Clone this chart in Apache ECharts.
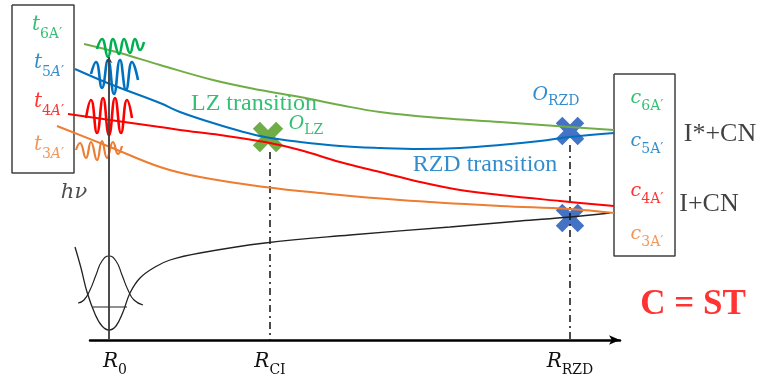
<!DOCTYPE html>
<html><head><meta charset="utf-8">
<script src="https://cdn.jsdelivr.net/npm/echarts@6/dist/echarts.min.js"></script>
<style>html,body{margin:0;padding:0;background:#fff}#c{width:758px;height:385px}</style>
</head><body><div id="c"></div>
<script>
// ---- data (x = internuclear distance R, y = energy, schematic units; smaller y = higher energy) ----
const curveT6 = [[84,44],[120,53],[160,65],[213,80],[260,90],[300,97],[340,105],[380,112],[440,118],[500,122],[570,127],[614,130]];
const curveT5 = [[75,69],[110,84],[160,103],[180,112],[213,123],[240,131],[265,137],[300,142],[340,146],[380,148],[420,149],[460,148],[500,145],[540,141],[570,137],[614,133]];
const curveT4 = [[68,114],[110,120],[160,127],[180,130],[220,135],[265,142],[300,150],[340,162],[380,172],[420,182],[460,190],[500,195],[560,201],[614,206]];
const curveT3 = [[57,126],[110,147],[160,167],[200,177],[265,187],[320,193],[400,200],[500,206],[570,209],[614,213]];
const curveGround = [[75,247],[81,268],[87,292],[95,314],[102,326],[109,330],[116,326],[123,312],[130,293],[140,278],[155,267],[170,260],[200,253],[265,243],[350,235],[450,227],[520,221],[570,217],[610,213]];
const groundPacket = [[78,303],[84,300],[90,290],[96,275],[102,261],[109,256],[116,261],[122,275],[128,290],[134,300],[143,305]];
const groundLevel = [[93,307],[127,307]];
const packetT6 = [[97,49],[102,39],[108,57],[113,39],[119,54],[124,39],[130,53],[135,39],[140,50],[144,42]];
const packetT5 = [[91,74],[96,62],[102,88],[108,60],[114,94],[120,60],[126,90],[132,62],[138,80]];
const packetT4 = [[86,118],[91,100],[97,133],[103,98],[109,135],[115,98],[121,133],[127,100],[132,118]];
const packetT3 = [[76,150],[80,143],[86,158],[91,142],[97,160],[102,141],[107,158],[113,142],[118,154],[122,146]];
const excitation = [[109,340],[109,57]];
const R0 = 109, RCI = 270, RRZD = 570;
const crossLZ = [[268,137]];
const crossRZD = [[570,131],[570,218]];
const dropCI = [[RCI,152],[RCI,340]];
const dropRZD = [[RRZD,145],[RRZD,340]];
const boxLeft = [[12,5],[74,5],[74,173],[12,173],[12,5]];
const boxRight = [[614,74],[675,74],[675,256],[614,256],[614,74]];
const tickValues = [R0, RCI, RRZD];
const tickLabels = ['{r0|R}{rs|0}', '{r|R}{rs|CI}', '{r|R}{rs|RZD}'];

const GREEN='#00B050', GREENL='#70AD47', BLUE='#0070C0', RED='#FF0000', ORANGE='#ED7D31', XBLUE='#4472C4';

function mathRich(color, big, small, pad){
  return {
    m:{fontFamily:'DejaVu Serif',fontStyle:'italic',fontSize:big,color:color,verticalAlign:'bottom',padding:[0,0,pad,0]},
    s:{fontFamily:'DejaVu Serif',fontSize:small,color:color,verticalAlign:'bottom'},
    si:{fontFamily:'DejaVu Serif',fontStyle:'italic',fontSize:small,color:color,verticalAlign:'bottom'}
  };
}
const annotations = [
  {text:'{m|t}{s|6A′}', at:[47,28], rich:mathRich(GREEN,20,14,6)},
  {text:'{m|t}{s|5}{si|A}{s|′}', at:[49,66], rich:mathRich(BLUE,20,14,6)},
  {text:'{m|t}{s|4}{si|A}{s|′}', at:[49,105], rich:mathRich(RED,20,14,6)},
  {text:'{m|t}{s|3}{si|A}{s|′}', at:[49,148], rich:mathRich(ORANGE,20,14,6)},
  {text:'{m|c}{s|6A′}', at:[647,101], rich:mathRich(GREEN,19,14,5)},
  {text:'{m|c}{s|5A′}', at:[647,144], rich:mathRich(BLUE,19,14,5)},
  {text:'{m|c}{s|4A′}', at:[647,194], rich:mathRich(RED,19,14,5)},
  {text:'{m|c}{s|3A′}', at:[647,237], rich:mathRich(ORANGE,19,14,5)},
  {text:'{m|hν}', at:[74,193], rich:mathRich('#222',21,14,0)},
  {text:'{m|O}{s|LZ}', at:[306,126], rich:mathRich(GREEN,19,14,4)},
  {text:'{m|O}{s|RZD}', at:[556,97], rich:mathRich(BLUE,19,14,4)},
  {text:'{p|LZ transition}', at:[254,104], rich:{p:{fontFamily:'Liberation Serif',fontSize:24,color:GREEN}}},
  {text:'{p|RZD transition}', at:[485,165], rich:{p:{fontFamily:'Liberation Serif',fontSize:24,color:BLUE}}},
  {text:'{p|I*+CN}', at:[720,134], rich:{p:{fontFamily:'Liberation Serif',fontSize:26,color:'#111'}}},
  {text:'{p|I+CN}', at:[709,204], rich:{p:{fontFamily:'Liberation Serif',fontSize:26,color:'#111'}}},
  {text:'{p|C = ST}', at:[693,305], rich:{p:{fontFamily:'Liberation Serif',fontWeight:'bold',fontSize:35,color:RED}}}
];

function line(data, color, width, extra){
  return Object.assign({type:'line', data:data, showSymbol:false, symbol:'none', clip:false, silent:true,
    lineStyle:{color:color, width:width}, animation:false}, extra||{});
}
const PLUS='path://M35,0 H65 V35 H100 V65 H65 V100 H35 V65 H0 V35 H35 Z';
const rR = {fontFamily:'DejaVu Serif',fontStyle:'italic',fontSize:20,color:'#111',verticalAlign:'bottom',padding:[0,0,5,0]};

const chart = echarts.init(document.getElementById('c'), null, {renderer:'canvas'});
chart.setOption({
  animation:false,
  backgroundColor:'#fff',
  grid:[{left:0, right:0, top:0, bottom:0},
        {left:90, right:138, top:0, bottom:45}],
  xAxis:[{gridIndex:0, type:'value', min:0, max:758, show:false},
    {gridIndex:1, type:'value', min:90, max:620,
    axisLine:{show:true, onZero:false, symbol:['none','arrow'], symbolSize:[7,11], lineStyle:{color:'#000', width:2.5}},
    axisTick:{show:false}, splitLine:{show:false},
    axisLabel:{show:true, customValues:tickValues, margin:12,
      formatter:function(v){ return tickLabels[tickValues.indexOf(v)] || ''; },
      rich:{r:rR, r0:Object.assign({}, rR, {padding:[0,0,5,12]}),
            rs:{fontFamily:'DejaVu Serif',fontSize:14,color:'#111',verticalAlign:'bottom'}}}
  }],
  yAxis:[{gridIndex:0, type:'value', min:0, max:385, inverse:true, show:false},
         {gridIndex:1, type:'value', min:0, max:340, inverse:true, show:false}],
  series:[
    line(boxLeft,'#404040',1.5),
    line(boxRight,'#404040',1.5),
    line(dropCI,'#111',1.5,{xAxisIndex:1, yAxisIndex:1, lineStyle:{color:'#111',width:1.5,type:[7,4,2,4]}}),
    line(dropRZD,'#111',1.5,{xAxisIndex:1, yAxisIndex:1, lineStyle:{color:'#111',width:1.5,type:[7,4,2,4]}}),
    line(excitation,'#404040',1.5,{markLine:{silent:true, symbol:['none','arrow'], symbolSize:[5,6], label:{show:false},
      lineStyle:{color:'#404040',width:1.5,type:'solid'}, data:[[{coord:excitation[0]},{coord:excitation[1]}]]}}),
    line(curveGround,'#222',1.3,{smooth:0.4}),
    line(groundPacket,'#222',1.2,{smooth:0.5}),
    line(groundLevel,'#222',1.2),
    line(curveT3,ORANGE,2,{smooth:0.4}),
    line(curveT4,RED,2,{smooth:0.4}),
    line(curveT5,BLUE,2,{smooth:0.4}),
    line(curveT6,GREENL,2,{smooth:0.4}),
    line(packetT6,GREEN,2.6,{smooth:0.5}),
    line(packetT5,BLUE,2.6,{smooth:0.5}),
    line(packetT4,RED,2.6,{smooth:0.5}),
    line(packetT3,ORANGE,2.2,{smooth:0.5}),
    {type:'scatter', data:crossLZ, symbol:PLUS, symbolRotate:45, symbolSize:33, clip:false, silent:true,
      itemStyle:{color:GREENL, opacity:1}},
    {type:'scatter', data:crossRZD, symbol:PLUS, symbolRotate:45, symbolSize:31, clip:false, silent:true,
      itemStyle:{color:XBLUE, opacity:1}},
    {type:'scatter', symbolSize:0, clip:false, silent:true,
      data:annotations.map(a=>({value:a.at, label:{show:true, position:'inside', formatter:a.text, rich:a.rich}}))}
  ]
});
</script></body></html>
